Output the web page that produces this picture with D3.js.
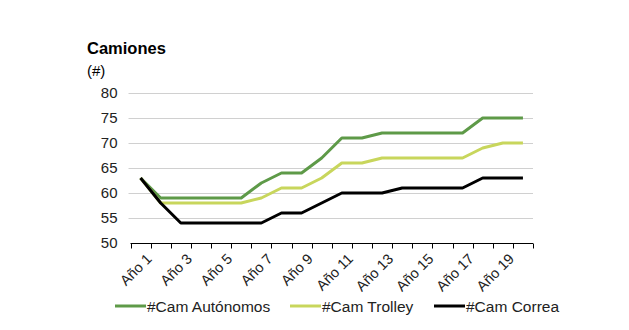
<!DOCTYPE html>
<html>
<head>
<meta charset="utf-8">
<script src="https://cdn.jsdelivr.net/npm/d3@7"></script>
<style>
  html, body { margin: 0; padding: 0; background: #fff; }
  svg { display: block; font-family: "Liberation Sans", Arial, sans-serif; }
</style>
</head>
<body>
<svg id="chart" width="629" height="330"></svg>
<script>
// Years on the x axis
const years = d3.range(1, 21).map(i => "Año " + i);

// Truck counts per scenario
const autonomos = [63, 59, 59, 59, 59, 59, 62, 64, 64, 67, 71, 71, 72, 72, 72, 72, 72, 75, 75, 75];
const trolley   = [63, 58, 58, 58, 58, 58, 59, 61, 61, 63, 66, 66, 67, 67, 67, 67, 67, 69, 70, 70];
const correa    = [63, 58, 54, 54, 54, 54, 54, 56, 56, 58, 60, 60, 60, 61, 61, 61, 61, 63, 63, 63];

const seriesNames = ["#Cam Autónomos", "#Cam Trolley", "#Cam Correa"];
const seriesColors = ["#5e9a48", "#c8d65c", "#000000"];
const yTicks = [50, 55, 60, 65, 70, 75, 80];

const series = [autonomos, trolley, correa].map((v, i) => ({
  name: seriesNames[i], color: seriesColors[i], values: v
}));

const svg = d3.select("#chart");
const plotLeft = 130.5, plotRight = 533, plotTop = 93, plotBottom = 243;

const x = d3.scaleBand().domain(years).range([plotLeft, plotRight]).padding(0);
const y = d3.scaleLinear().domain([50, 80]).range([plotBottom, plotTop]);

// Title and unit
svg.append("text").attr("x", 87).attr("y", 54)
  .attr("font-size", 16.5).attr("font-weight", "bold").attr("fill", "#000")
  .text("Camiones");
svg.append("text").attr("x", 87).attr("y", 76)
  .attr("font-size", 15).attr("fill", "#000")
  .text("(#)");

// Horizontal gridlines
svg.append("g").selectAll("line")
  .data(yTicks.filter(t => t > 50))
  .join("line")
  .attr("x1", plotLeft - 2).attr("x2", plotRight)
  .attr("y1", d => Math.round(y(d)) + 0.5).attr("y2", d => Math.round(y(d)) + 0.5)
  .attr("stroke", "#d0d0d0").attr("stroke-width", 1);

// Y axis labels
const yAxis = d3.axisLeft(y).tickValues(yTicks).tickSize(0).tickPadding(0);
const gy = svg.append("g").attr("transform", `translate(${plotLeft - 13},0)`).call(yAxis);
gy.select(".domain").remove();
gy.selectAll("text").attr("font-size", 15).attr("fill", "#222")
  .attr("font-family", "Liberation Sans, Arial, sans-serif");

// X axis with category boundary ticks
const gx = svg.append("g").attr("transform", `translate(0,${Math.round(y(50)) + 0.5})`);
gx.append("line").attr("x1", plotLeft).attr("x2", plotRight).attr("stroke", "#000").attr("stroke-width", 1);
const boundaries = years.map(d => x(d)).concat([plotRight]);
gx.selectAll("line.tick").data(boundaries).join("line")
  .attr("class", "tick")
  .attr("x1", d => Math.round(d) + 0.5).attr("x2", d => Math.round(d) + 0.5)
  .attr("y1", 0).attr("y2", 5).attr("stroke", "#000");
gx.selectAll("text").data(years.filter((d, i) => i % 2 === 0)).join("text")
  .attr("transform", d => `translate(${x(d) + x.bandwidth() / 2 + 5},${9}) rotate(-45)`)
  .attr("text-anchor", "end").attr("dy", "0.7em")
  .attr("font-size", 14.5).attr("fill", "#222")
  .text(d => d);

// Series lines
const line = d3.line()
  .x((d, i) => x(years[i]) + x.bandwidth() / 2)
  .y(d => y(d));
svg.append("g").selectAll("path").data(series).join("path")
  .attr("d", s => line(s.values))
  .attr("fill", "none").attr("stroke", s => s.color)
  .attr("stroke-width", 3).attr("stroke-linejoin", "round");

// Legend
const legendX = [115, 290, 434];
const lg = svg.append("g").selectAll("g").data(series).join("g")
  .attr("transform", (s, i) => `translate(${legendX[i]},306)`);
lg.append("line").attr("x1", 0).attr("x2", 31).attr("y1", 0).attr("y2", 0)
  .attr("stroke", s => s.color).attr("stroke-width", 3);
lg.append("text").attr("x", 32).attr("y", 5.5).attr("font-size", 15.5).attr("fill", "#222")
  .text(s => s.name);
</script>
</body>
</html>
